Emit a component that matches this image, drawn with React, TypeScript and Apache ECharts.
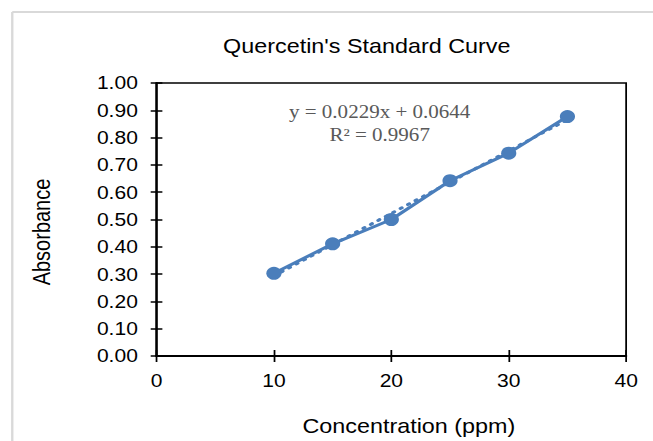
import React, { useEffect, useRef } from "react";
import * as echarts from "echarts";

// ---- data ----
const concentration: number[] = [10, 15, 20, 25, 30, 35];
const absorbance: number[] = [0.303, 0.411, 0.5, 0.642, 0.743, 0.877];
const trendSlope = 0.0229;
const trendIntercept = 0.0644;
const rSquared = 0.9967;
const titleText = "Quercetin's Standard Curve";
const xAxisName = "Concentration (ppm)";
const yAxisName = "Absorbance";

const SANS = "'Liberation Sans', Arial, sans-serif";
const SERIF = "'Liberation Serif', 'Times New Roman', serif";
const BLUE = "#4a7ebb";
const STRETCH = 653 / 559;

export default function App() {
  const ref = useRef<HTMLDivElement>(null);

  useEffect(() => {
    if (!ref.current) return;
    const chart = echarts.init(ref.current, undefined, { renderer: "svg" });

    const trendX = [concentration[0], concentration[concentration.length - 1]];
    const trendData = trendX.map((x) => [x, trendSlope * x + trendIntercept]);
    const mainData = concentration.map((x, i) => [x, absorbance[i]]);

    const tickStyle = { color: "#000", width: 1.5 };

    chart.setOption({
      animation: false,
      backgroundColor: "#fff",
      title: {
        text: titleText,
        left: 314,
        top: 36,
        textAlign: "center",
        padding: 0,
        textStyle: { fontSize: 20, fontWeight: "normal", color: "#000", fontFamily: SANS },
      },
      grid: {
        left: 134,
        right: 23,
        top: 83,
        bottom: 84,
        show: true,
        borderColor: "#000",
        borderWidth: 1.5,
        backgroundColor: "transparent",
      },
      xAxis: [
        {
          type: "value",
          min: 0,
          max: 40,
          interval: 10,
          position: "bottom",
          axisLine: { show: true, onZero: false, lineStyle: { color: "#000", width: 2 } },
          axisTick: { show: true, length: 6, lineStyle: tickStyle },
          axisLabel: { fontSize: 18, color: "#000", fontFamily: SANS, margin: 16 },
          splitLine: { show: false },
          name: xAxisName,
          nameLocation: "middle",
          nameGap: 60,
          nameTextStyle: { fontSize: 20, color: "#000", fontFamily: SANS, padding: [0, 0, 0, 30] },
        },
        {
          type: "value",
          min: 0,
          max: 40,
          interval: 10,
          position: "bottom",
          axisLine: { show: false },
          axisTick: { show: true, inside: true, length: 6, lineStyle: tickStyle },
          axisLabel: { show: false },
          splitLine: { show: false },
        },
      ],
      yAxis: [
        {
          type: "value",
          min: 0,
          max: 1,
          interval: 0.1,
          position: "left",
          axisLine: { show: true, onZero: false, lineStyle: { color: "#000", width: 2 } },
          axisTick: { show: true, length: 5, lineStyle: tickStyle },
          axisLabel: {
            fontSize: 18,
            color: "#000",
            fontFamily: SANS,
            margin: 16,
            formatter: (v: number) => v.toFixed(2),
          },
          splitLine: { show: false },
          name: yAxisName,
          nameLocation: "middle",
          nameGap: 88,
          nameTextStyle: { fontSize: 20, color: "#000", fontFamily: SANS, padding: [0, 25, 0, 0] },
        },
        {
          type: "value",
          min: 0,
          max: 1,
          interval: 0.1,
          position: "left",
          axisLine: { show: false },
          axisTick: { show: true, inside: true, length: 5, lineStyle: tickStyle },
          axisLabel: { show: false },
          splitLine: { show: false },
        },
      ],
      graphic: [
        {
          type: "line",
          silent: true,
          z: -1,
          shape: { x1: 10.5, y1: 12, x2: 600, y2: 12 },
          style: { stroke: "#d9d9d9", lineWidth: 2 },
        },
        {
          type: "line",
          silent: true,
          z: -1,
          shape: { x1: 10.5, y1: 12, x2: 10.5, y2: 460 },
          style: { stroke: "#d9d9d9", lineWidth: 2 },
        },
        {
          type: "text",
          x: 325,
          y: 112,
          style: {
            text: `y = ${trendSlope}x + ${trendIntercept}`,
            fontSize: 18,
            fontFamily: SERIF,
            fill: "#595959",
            align: "center",
            verticalAlign: "middle",
          },
        },
        {
          type: "text",
          x: 325,
          y: 135,
          style: {
            text: `R² = ${rSquared}`,
            fontSize: 18,
            fontFamily: SERIF,
            fill: "#595959",
            align: "center",
            verticalAlign: "middle",
          },
        },
      ],
      series: [
        {
          name: "Trend",
          type: "line",
          xAxisIndex: 0,
          yAxisIndex: 0,
          data: trendData,
          symbol: "none",
          z: 2,
          lineStyle: { color: BLUE, width: 3, type: [1.5, 6], cap: "round" },
        },
        {
          name: "Absorbance",
          type: "line",
          xAxisIndex: 0,
          yAxisIndex: 0,
          data: mainData,
          symbol: "circle",
          symbolSize: 13,
          z: 3,
          itemStyle: { color: BLUE },
          lineStyle: { color: BLUE, width: 3 },
        },
      ],
    });

    return () => chart.dispose();
  }, []);

  return (
    <div
      style={{
        position: "fixed",
        left: 0,
        top: 0,
        width: 653,
        height: 441,
        overflow: "hidden",
        background: "#fff",
      }}
    >
      <div
        ref={ref}
        style={{
          width: 559,
          height: 441,
          transform: `scaleX(${STRETCH})`,
          transformOrigin: "0 0",
        }}
      />
    </div>
  );
}
